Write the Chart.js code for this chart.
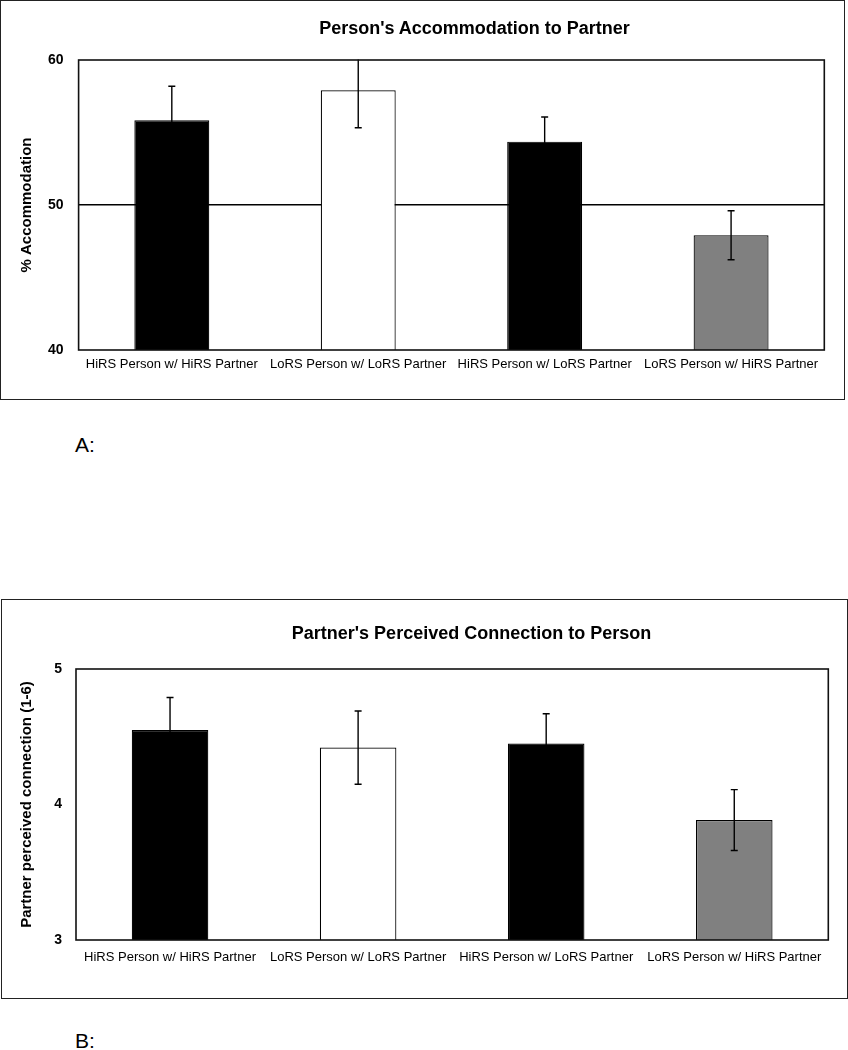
<!DOCTYPE html>
<html>
<head>
<meta charset="utf-8">
<script src="https://cdn.jsdelivr.net/npm/chart.js@4/dist/chart.umd.min.js"></script>
<style>
  html, body { margin: 0; padding: 0; background: #fff; width: 848px; height: 1050px; overflow: hidden; }
  .box { position: absolute; box-sizing: border-box; border: 1.5px solid #222; }
  canvas { position: absolute; }
  .ttl { position: absolute; width: 600px; text-align: center; font: bold 18px 'Liberation Sans', Arial, sans-serif; color: #000; line-height: 20px; }
  .lbl { position: absolute; font: 21px 'Liberation Sans', Arial, sans-serif; line-height: 21px; color: #000; }
</style>
</head>
<body>
<div class="box" style="left:0;top:0;width:845px;height:400px;"></div>
<div class="box" style="left:1px;top:598.5px;width:847px;height:400px;"></div>
<canvas id="chartA" width="846" height="400" style="left:0;top:0;"></canvas>
<canvas id="chartB" width="846" height="399" style="left:0;top:599px;"></canvas>
<div class="ttl" style="left:174.5px;top:18px;">Person's Accommodation to Partner</div>
<div class="ttl" style="left:171.5px;top:623px;">Partner's Perceived Connection to Person</div>
<div class="lbl" style="left:75px;top:434px;">A:</div>
<div class="lbl" style="left:75px;top:1030px;">B:</div>
<script>
const categories = [
  'HiRS Person w/ HiRS Partner',
  'LoRS Person w/ LoRS Partner',
  'HiRS Person w/ LoRS Partner',
  'LoRS Person w/ HiRS Partner'
];
const accommodation = [55.84, 57.91, 54.37, 47.91];
const accommodationErr = [2.35, 2.58, 1.70, 1.69];
const connection = [4.55, 4.42, 4.45, 3.885];
const connectionErr = [0.24, 0.27, 0.22, 0.225];
const accommodationTicks = [40, 50, 60];
const connectionTicks = [3, 4, 5];

const barFill = ['#000000', '#ffffff', '#000000', '#808080'];
const FONT = "'Liberation Sans', Arial, sans-serif";
Chart.defaults.font.family = FONT;
Chart.defaults.color = '#000';

const errorBars = {
  id: 'errorBars',
  afterDatasetsDraw(chart, args, opts) {
    const ctx = chart.ctx;
    const meta = chart.getDatasetMeta(0);
    const ys = chart.scales.y;
    const vals = chart.data.datasets[0].data;
    const errs = opts.errors;
    const a = chart.chartArea;
    ctx.save();
    ctx.beginPath();
    ctx.rect(a.left, a.top - 0.5, a.right - a.left, a.bottom - a.top + 1);
    ctx.clip();
    ctx.strokeStyle = '#000';
    ctx.lineWidth = 1.4;
    meta.data.forEach((el, i) => {
      const x = el.x;
      const yT = ys.getPixelForValue(vals[i] + errs[i]);
      const yB = ys.getPixelForValue(vals[i] - errs[i]);
      ctx.beginPath();
      ctx.moveTo(x, yT); ctx.lineTo(x, yB);
      ctx.moveTo(x - 3.5, yT); ctx.lineTo(x + 3.5, yT);
      ctx.moveTo(x - 3.5, yB); ctx.lineTo(x + 3.5, yB);
      ctx.stroke();
    });
    ctx.restore();
  }
};

const frame = {
  id: 'frame',
  afterDraw(chart) {
    const a = chart.chartArea;
    const ctx = chart.ctx;
    ctx.save();
    ctx.strokeStyle = '#111';
    ctx.lineWidth = 1.6;
    ctx.strokeRect(a.left, a.top, a.right - a.left, a.bottom - a.top);
    ctx.restore();
  }
};

function makeChart(id, values, errs, tickVals, cfg) {
  return new Chart(document.getElementById(id), {
    type: 'bar',
    data: {
      labels: categories,
      datasets: [{
        data: values,
        backgroundColor: barFill,
        borderColor: '#000',
        borderWidth: 1.2,
        barPercentage: cfg.barPct,
        categoryPercentage: 1.0
      }]
    },
    options: {
      responsive: false,
      animation: false,
      devicePixelRatio: 1,
      layout: { padding: cfg.padding },
      plugins: {
        legend: { display: false },
        tooltip: { enabled: false },
        title: { display: false },
        errorBars: { errors: errs }
      },
      scales: {
        x: {
          grid: { display: false },
          border: { display: false },
          ticks: { font: { size: 13 }, padding: cfg.xPad, maxRotation: 0, autoSkip: false },
          afterFit(s) { s.height = cfg.xHeight; }
        },
        y: {
          min: tickVals[0],
          max: tickVals[tickVals.length - 1],
          afterBuildTicks(s) { s.ticks = tickVals.map(v => ({ value: v })); },
          grid: {
            drawTicks: false,
            lineWidth: 1.4,
            color: c => (cfg.midGrid && c.tick && c.tick.value === tickVals[1]) ? '#000' : 'rgba(0,0,0,0)'
          },
          border: { display: false },
          ticks: { font: { size: 14, weight: 'bold' }, padding: cfg.yPad },
          title: {
            display: true,
            text: cfg.yTitle,
            font: { size: 15, weight: 'bold' },
            padding: { top: 18, bottom: 0 }
          },
          afterFit(s) { s.width = cfg.yWidth; }
        }
      }
    },
    plugins: [errorBars, frame]
  });
}

makeChart('chartA', accommodation, accommodationErr, accommodationTicks, {
  barPct: 0.402,
  padding: { top: 60, right: 21.7, bottom: 0, left: 0 },
  xHeight: 50, xPad: -1, yPad: 15, yWidth: 78.6,
  midGrid: true,
  yTitle: '% Accommodation'
});

makeChart('chartB', connection, connectionErr, connectionTicks, {
  barPct: 0.407,
  padding: { top: 70, right: 17.7, bottom: 0, left: 0 },
  xHeight: 58, xPad: 2, yPad: 14, yWidth: 76,
  midGrid: false,
  yTitle: 'Partner perceived connection (1-6)'
});
</script>
</body>
</html>
